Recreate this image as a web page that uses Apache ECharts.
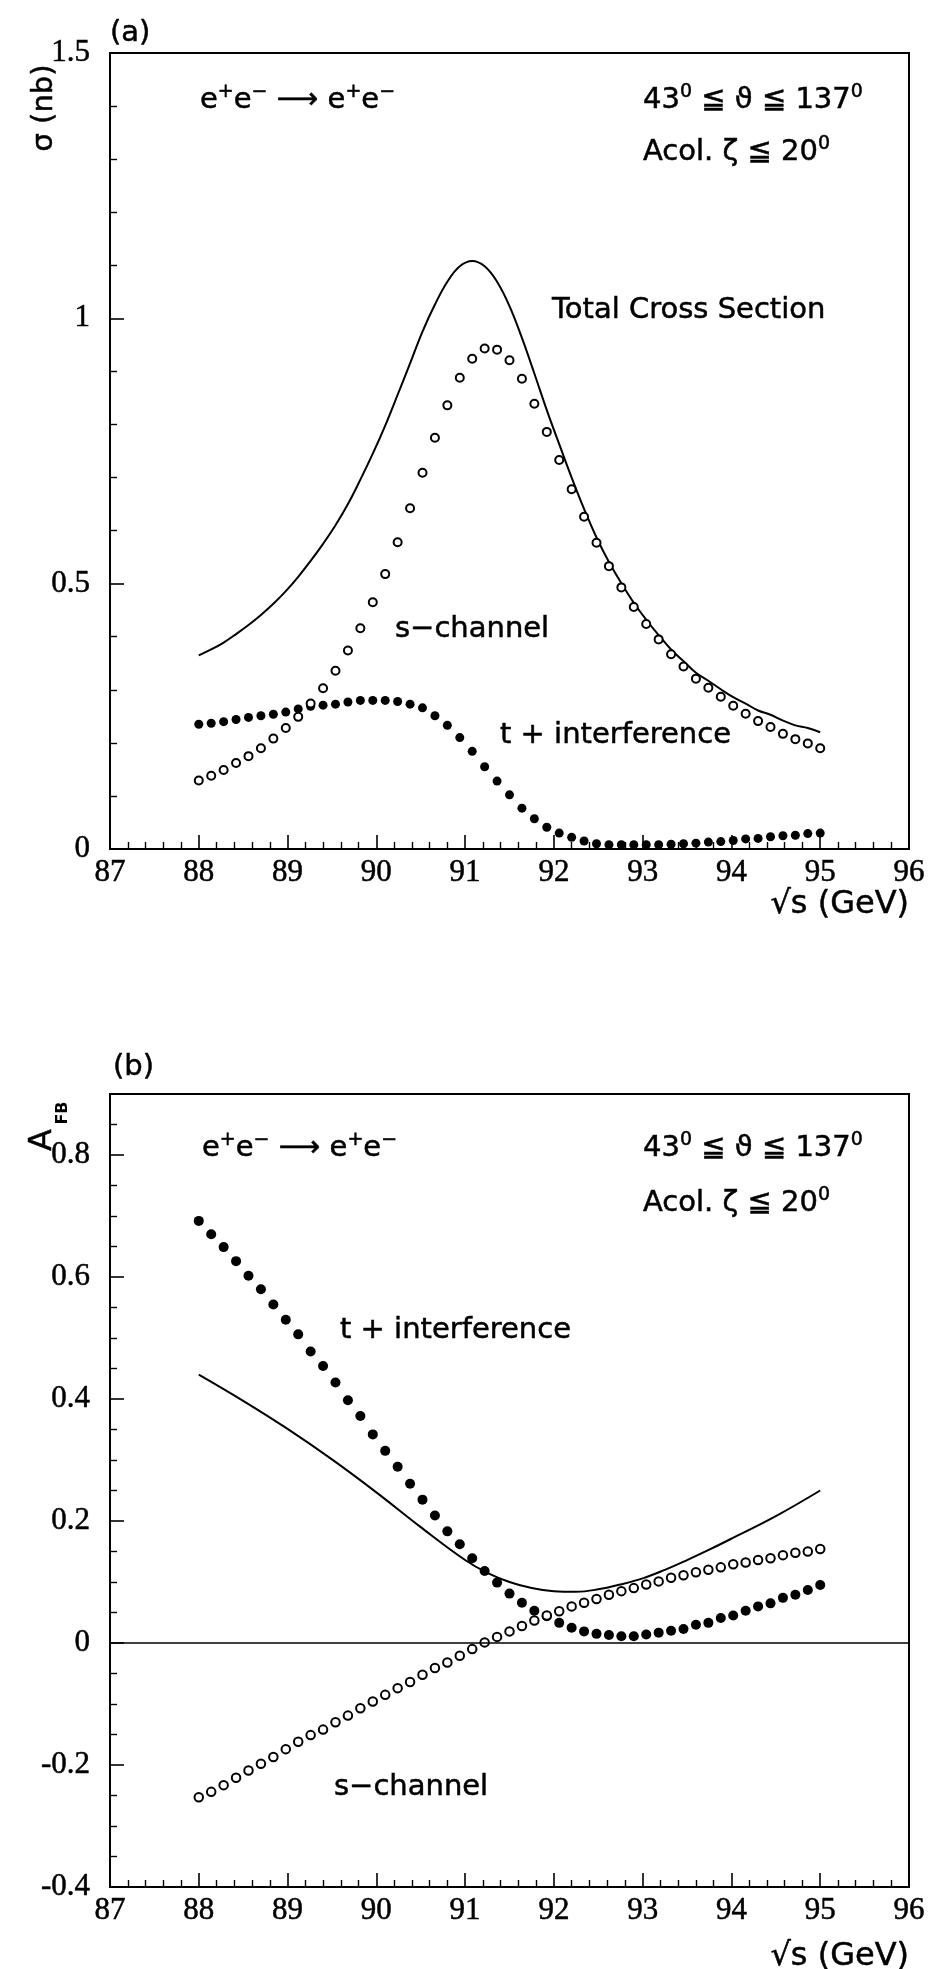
<!DOCTYPE html>
<html>
<head>
<meta charset="utf-8">
<script src="https://cdn.jsdelivr.net/npm/echarts/dist/echarts.min.js"></script>
<style>
html,body{margin:0;padding:0;background:#fff;}
#chart{width:928px;height:1969px;}
</style>
</head>
<body>
<div id="chart"></div>
<script>
// ---------- data ----------
const energies = [88.00, 88.14, 88.28, 88.42, 88.56, 88.70, 88.84, 88.98, 89.12, 89.26,
  89.40, 89.54, 89.68, 89.82, 89.96, 90.10, 90.24, 90.38, 90.52, 90.66,
  90.80, 90.94, 91.08, 91.22, 91.36, 91.50, 91.64, 91.78, 91.92, 92.06,
  92.20, 92.34, 92.48, 92.62, 92.76, 92.90, 93.04, 93.18, 93.32, 93.46,
  93.60, 93.74, 93.88, 94.02, 94.16, 94.30, 94.44, 94.58, 94.72, 94.86, 95.00];

// (a) cross sections, nb
const sigmaTotal = [0.365, 0.376, 0.389, 0.405, 0.422, 0.441, 0.462, 0.486, 0.513, 0.543,
  0.575, 0.610, 0.650, 0.696, 0.745, 0.798, 0.856, 0.915, 0.975, 1.026,
  1.069, 1.098, 1.108, 1.098, 1.069, 1.023, 0.963, 0.896, 0.827, 0.763,
  0.700, 0.641, 0.587, 0.541, 0.501, 0.464, 0.432, 0.403, 0.376, 0.354,
  0.332, 0.317, 0.301, 0.286, 0.274, 0.261, 0.253, 0.242, 0.233, 0.228, 0.220];
const sigmaS = [0.129, 0.138, 0.149, 0.162, 0.175, 0.190, 0.208, 0.228, 0.249, 0.274,
  0.303, 0.336, 0.374, 0.416, 0.465, 0.518, 0.578, 0.642, 0.709, 0.775,
  0.836, 0.888, 0.924, 0.943, 0.941, 0.921, 0.886, 0.839, 0.786, 0.733,
  0.678, 0.626, 0.577, 0.533, 0.493, 0.456, 0.424, 0.395, 0.367, 0.344,
  0.321, 0.304, 0.287, 0.270, 0.255, 0.241, 0.230, 0.217, 0.207, 0.199, 0.190];
const sigmaT = [0.235, 0.237, 0.240, 0.244, 0.248, 0.251, 0.254, 0.258, 0.264, 0.269,
  0.271, 0.273, 0.277, 0.280, 0.280, 0.280, 0.278, 0.273, 0.266, 0.251,
  0.233, 0.210, 0.184, 0.155, 0.128, 0.102, 0.077, 0.057, 0.041, 0.030,
  0.022, 0.015, 0.010, 0.008, 0.008, 0.008, 0.008, 0.008, 0.009, 0.010,
  0.011, 0.013, 0.014, 0.016, 0.019, 0.020, 0.023, 0.025, 0.026, 0.029, 0.030];

// (b) forward-backward asymmetry
const afbTotalX = [88.0, 88.5, 89.0, 89.5, 90.0, 90.5, 91.0, 91.25, 91.5, 91.75,
  92.0, 92.25, 92.5, 92.75, 93.0, 93.25, 93.5, 93.75, 94.0, 94.5, 95.0];
const afbTotal = [0.440, 0.397, 0.351, 0.301, 0.247, 0.190, 0.136, 0.115, 0.100, 0.090,
  0.085, 0.084, 0.088, 0.096, 0.106, 0.120, 0.136, 0.153, 0.171, 0.208, 0.250];
const afbS = [-0.253, -0.244, -0.233, -0.221, -0.209, -0.198, -0.187, -0.174, -0.162, -0.151,
  -0.142, -0.130, -0.119, -0.107, -0.096, -0.085, -0.074, -0.064, -0.052, -0.041,
  -0.032, -0.021, -0.010, 0.001, 0.010, 0.019, 0.028, 0.037, 0.045, 0.052,
  0.060, 0.066, 0.072, 0.079, 0.085, 0.090, 0.096, 0.101, 0.107, 0.111,
  0.116, 0.120, 0.124, 0.129, 0.132, 0.136, 0.139, 0.144, 0.148, 0.150, 0.154];
const afbT = [0.692, 0.670, 0.649, 0.626, 0.602, 0.580, 0.555, 0.530, 0.506, 0.478,
  0.454, 0.427, 0.398, 0.372, 0.342, 0.315, 0.289, 0.261, 0.235, 0.209,
  0.183, 0.162, 0.139, 0.118, 0.099, 0.081, 0.066, 0.053, 0.044, 0.033,
  0.025, 0.019, 0.015, 0.013, 0.011, 0.011, 0.014, 0.017, 0.020, 0.023,
  0.030, 0.033, 0.041, 0.045, 0.053, 0.060, 0.065, 0.074, 0.079, 0.087, 0.095];

const xTicks = {min: 87, max: 96, interval: 1};
const yTicksA = {min: 0, max: 1.5, interval: 0.5};
const yTicksB = {min: -0.4, max: 0.9, interval: 0.2};

// ---------- helpers ----------
const zip = (xs, ys) => xs.map((x, i) => [x, ys[i]]);
const SANS = '"DejaVu Sans", sans-serif';
const SERIF = '"Liberation Serif", "DejaVu Serif", serif';

const tickLabel = {color: '#000', fontFamily: SERIF, fontSize: 31, textBorderColor: '#000', textBorderWidth: 0.5};

function xAxisDef(gridIndex) {
  return {
    type: 'value', gridIndex, min: xTicks.min, max: xTicks.max, interval: xTicks.interval,
    axisLine: {show: true, onZero: false, lineStyle: {color: '#000', width: 2}},
    axisTick: {show: true, inside: true, length: 14, lineStyle: {color: '#000', width: 1.6}},
    minorTick: {show: true, splitNumber: 5, length: 7, lineStyle: {color: '#000', width: 1.4}},
    splitLine: {show: false},
    axisLabel: Object.assign({margin: 8}, tickLabel)
  };
}
function yAxisDef(gridIndex, t, minorSplit) {
  return {
    type: 'value', gridIndex, min: t.min, max: t.max, interval: t.interval,
    axisLine: {show: true, onZero: false, lineStyle: {color: '#000', width: 2}},
    axisTick: {show: true, inside: true, length: 14, lineStyle: {color: '#000', width: 1.6}},
    minorTick: {show: true, splitNumber: minorSplit, length: 7, lineStyle: {color: '#000', width: 1.4}},
    splitLine: {show: false},
    axisLabel: Object.assign({margin: 20, showMaxLabel: gridIndex === 0}, tickLabel)
  };
}
const RICH = {
  n: {fontFamily: 'DejaVu Sans', fontSize: 29, lineHeight: 34, fill: '#000', color: '#000'},
  s: {fontFamily: 'DejaVu Sans', fontSize: 19, lineHeight: 20, verticalAlign: 'top', fill: '#000', color: '#000'},
  a: {fontFamily: 'DejaVu Sans', fontSize: 29, lineHeight: 34, fill: '#000', color: '#000'}
};
function txt(text, x, y, opts) {
  opts = opts || {};
  const st = {
    text, fill: '#000',
    font: (opts.weight || 'normal') + ' ' + (opts.size || 29) + 'px ' + (opts.family || SANS),
    align: opts.align || 'left', verticalAlign: 'middle',
    textAlign: opts.align || 'left', textVerticalAlign: 'middle',
    stroke: '#000', lineWidth: opts.stroke === undefined ? 0.5 : opts.stroke
  };
  if (opts.rich) st.rich = RICH;
  return {type: 'text', x, y, rotation: opts.rotation || 0, z: 100, style: st};
}
const openSym = {color: '#fff', borderColor: '#000', borderWidth: 2, opacity: 1};
const fillSym = {color: '#000', opacity: 1};

const reaction = '{n|e}{s|+}{n|e}{s|−}{n| }{a|⟶}{n| e}{s|+}{n|e}{s|−}';
const thetaCut = '{n|43}{s|0}{n| ≦ ϑ ≦ 137}{s|0}';
const acolCut = '{n|Acol. ζ ≦ 20}{s|0}';

const option = {
  animation: false,
  backgroundColor: '#fff',
  grid: [
    {left: 110, right: 19, top: 53, height: 796, show: true, borderColor: '#000', borderWidth: 2, backgroundColor: 'transparent'},
    {left: 110, right: 19, top: 1094, height: 793, show: true, borderColor: '#000', borderWidth: 2, backgroundColor: 'transparent'}
  ],
  xAxis: [xAxisDef(0), xAxisDef(1)],
  yAxis: [yAxisDef(0, yTicksA, 5), yAxisDef(1, yTicksB, 4)],
  series: [
    {type: 'line', xAxisIndex: 0, yAxisIndex: 0, data: zip(energies, sigmaTotal), smooth: 0.4,
     showSymbol: false, lineStyle: {color: '#000', width: 2}, z: 2},
    {type: 'scatter', xAxisIndex: 0, yAxisIndex: 0, data: zip(energies, sigmaT), symbol: 'circle',
     symbolSize: 9, itemStyle: fillSym, z: 3},
    {type: 'scatter', xAxisIndex: 0, yAxisIndex: 0, data: zip(energies, sigmaS), symbol: 'circle',
     symbolSize: 8, itemStyle: openSym, z: 4},

    {type: 'line', xAxisIndex: 1, yAxisIndex: 1, data: zip(afbTotalX, afbTotal), smooth: 0.4,
     showSymbol: false, lineStyle: {color: '#000', width: 2}, z: 2,
     markLine: {silent: true, symbol: ['none', 'none'], label: {show: false},
       lineStyle: {color: '#000', width: 1.6, type: 'solid'}, data: [{yAxis: 0}]}},
    {type: 'scatter', xAxisIndex: 1, yAxisIndex: 1, data: zip(energies, afbT), symbol: 'circle',
     symbolSize: 10, itemStyle: fillSym, z: 3},
    {type: 'scatter', xAxisIndex: 1, yAxisIndex: 1, data: zip(energies, afbS), symbol: 'circle',
     symbolSize: 8.5, itemStyle: openSym, z: 4}
  ],
  graphic: [
    // panel (a)
    txt('(a)', 110, 33, {size: 29}),
    txt('σ (nb)', 44, 108, {size: 29, rotation: Math.PI / 2, align: 'center'}),
    txt(reaction, 200, 100, {rich: true}),
    txt(thetaCut, 643, 100, {rich: true}),
    txt(acolCut, 643, 152, {rich: true}),
    txt('Total Cross Section', 552, 310),
    txt('s−channel', 395, 629),
    txt('t + interference', 500, 735),
    txt('√s (GeV)', 909, 905, {size: 32, align: 'right'}),
    // panel (b)
    txt('(b)', 113, 1067, {size: 29}),
    txt('A', 43, 1140, {size: 32, rotation: Math.PI / 2, align: 'center'}),
    txt('FB', 63, 1113, {size: 16, weight: 'bold', rotation: Math.PI / 2, align: 'center', stroke: 0}),
    txt(reaction, 202, 1148, {rich: true}),
    txt(thetaCut, 643, 1148, {rich: true}),
    txt(acolCut, 643, 1203, {rich: true}),
    txt('t + interference', 340, 1330),
    txt('s−channel', 334, 1787),
    txt('√s (GeV)', 909, 1957, {size: 32, align: 'right'})
  ]
};

const chart = echarts.init(document.getElementById('chart'), null, {renderer: 'canvas'});
chart.setOption(option);
</script>
</body>
</html>
